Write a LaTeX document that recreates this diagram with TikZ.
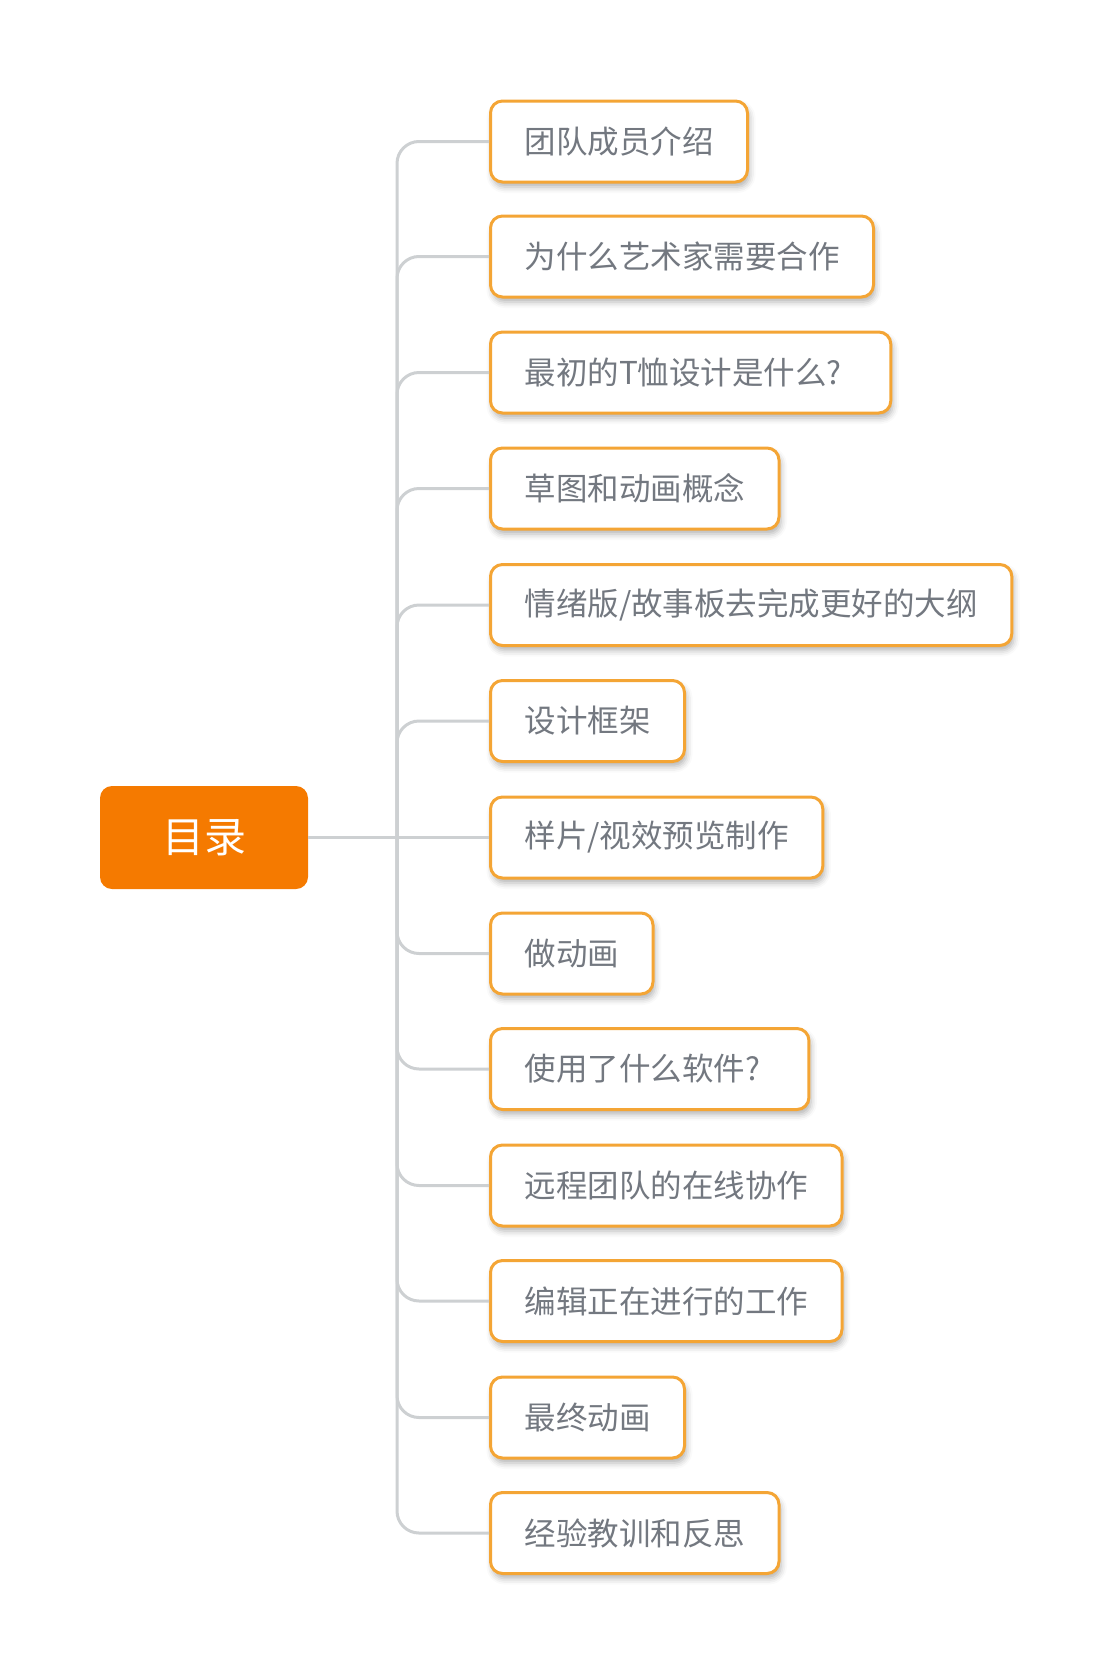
\documentclass[tikz,border=0pt]{standalone}
\usepackage{fontspec}
\setmainfont{Noto Sans CJK SC}
\usetikzlibrary{shadows.blur}
\definecolor{rootorange}{HTML}{F57A00}
\definecolor{boxorange}{HTML}{F4A535}
\definecolor{conngray}{HTML}{CDD0D2}
\definecolor{textgray}{HTML}{737880}
\tikzset{
  rootbox/.style={draw=none, fill=rootorange, rounded corners=12pt, minimum width=208pt, minimum height=103pt, inner sep=0pt, text=white, font=\fontsize{42}{50}\selectfont},
  childbox/.style={draw=boxorange, line width=3pt, fill=white, rounded corners=12pt, minimum height=81pt, inner xsep=34pt, inner ysep=0pt, anchor=west, text=textgray, font=\fontsize{31.5}{38}\selectfont, blur shadow={shadow xshift=2pt, shadow yshift=-5pt, shadow blur radius=6pt, shadow opacity=30}},
  conn/.style={draw=conngray, line width=3pt, rounded corners=22pt}
}
\begin{document}
\begin{tikzpicture}[x=1pt,y=-1pt]
\useasboundingbox (0,0) rectangle (1116,1676);
\node[rootbox] (root) at (204,837.5) {目录};
\coordinate (hub) at (397,837.5);
\foreach \name/\y/\txt in {
  c1/141.5/{团队成员介绍},
  c2/256.5/{为什么艺术家需要合作},
  c3/372.5/{最初的T恤设计是什么?\kern15pt},
  c4/488.5/{草图和动画概念},
  c5/605/{情绪版/故事板去完成更好的大纲},
  c6/721/{设计框架},
  c8/953.5/{做动画},
  c9/1069/{使用了什么软件?\kern15pt},
  c10/1185.5/{远程团队的在线协作},
  c11/1301/{编辑正在进行的工作},
  c12/1417.5/{最终动画},
  c13/1533/{经验教训和反思}}{
  \node[childbox] (\name) at (489,\y) {\txt};
  \draw[conn] (hub) |- (\name.west);
}
\node[childbox] (c7) at (489,837.5) {样片/视效预览制作};
\draw[conn] (root.east) -- (c7.west);
\end{tikzpicture}
\end{document}
